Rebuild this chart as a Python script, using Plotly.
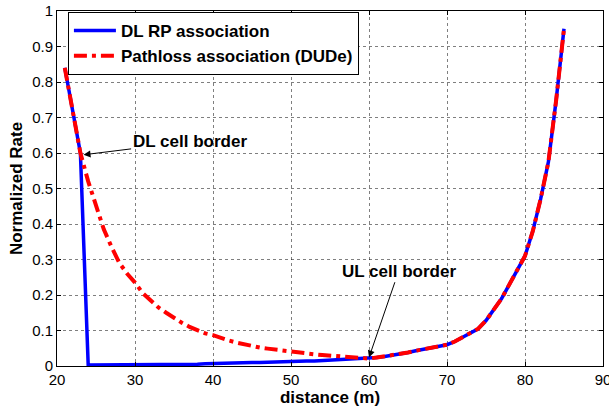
import plotly.graph_objects as go

distance = list(range(21, 86))

dl_rp = [0.84, 0.72, 0.60, 0.003, 0.003, 0.003, 0.003, 0.003, 0.003, 0.003,
         0.003, 0.003, 0.003, 0.003, 0.003, 0.004, 0.005, 0.005, 0.006, 0.007,
         0.007, 0.008, 0.008, 0.009, 0.010, 0.010, 0.011, 0.011, 0.012, 0.013,
         0.013, 0.014, 0.014, 0.015, 0.016, 0.017, 0.018, 0.019, 0.020, 0.021,
         0.024, 0.027, 0.030, 0.034, 0.038, 0.043, 0.047, 0.051, 0.055, 0.060,
         0.069, 0.081, 0.092, 0.105, 0.128, 0.157, 0.190, 0.230, 0.270, 0.310,
         0.380, 0.470, 0.575, 0.750, 0.950]

pathloss = [0.84, 0.72, 0.60, 0.52, 0.45, 0.385, 0.335, 0.29, 0.26, 0.235,
            0.205, 0.185, 0.165, 0.15, 0.135, 0.122, 0.11, 0.10, 0.092, 0.087,
            0.079, 0.072, 0.066, 0.061, 0.056, 0.052, 0.049, 0.046, 0.044, 0.042,
            0.039, 0.036, 0.033, 0.031, 0.029, 0.027, 0.025, 0.024, 0.022, 0.021,
            0.024, 0.027, 0.030, 0.034, 0.038, 0.043, 0.047, 0.051, 0.055, 0.060,
            0.069, 0.081, 0.092, 0.105, 0.128, 0.157, 0.190, 0.230, 0.270, 0.310,
            0.380, 0.470, 0.575, 0.750, 0.950]

x_ticks = [20, 30, 40, 50, 60, 70, 80, 90]
y_ticks = [0, 0.1, 0.2, 0.3, 0.4, 0.5, 0.6, 0.7, 0.8, 0.9, 1]
y_tick_labels = ["0", "0.1", "0.2", "0.3", "0.4", "0.5", "0.6", "0.7", "0.8", "0.9", "1"]

FONT = "Liberation Sans, Arial, sans-serif"

fig = go.Figure()
fig.add_trace(go.Scatter(x=distance, y=dl_rp, mode="lines", name="<b>DL RP association</b>",
                         line=dict(color="#0000ff", width=3.5)))
fig.add_trace(go.Scatter(x=distance, y=pathloss, mode="lines", name="<b>Pathloss association (DUDe)</b>",
                         line=dict(color="#ff0000", width=4, dash="13px,5px,4px,5px")))

axis_common = dict(showline=True, linecolor="black", linewidth=1, mirror="ticks",
                   ticks="inside", ticklen=4, tickcolor="black",
                   showgrid=True, gridcolor="rgba(0,0,0,0.5)", griddash="dot", gridwidth=1,
                   zeroline=False, ticklabeloverflow="allow", automargin=False,
                   tickfont=dict(family=FONT, size=15, color="black"))

fig.update_xaxes(range=[20, 90], tickvals=x_ticks, **axis_common,
                 title=dict(text="<b>distance (m)</b>", font=dict(family=FONT, size=17, color="black"),
                            standoff=1))
fig.update_yaxes(range=[0, 1], tickvals=y_ticks, ticktext=y_tick_labels, **axis_common,
                 title=dict(text="<b>Normalized Rate</b>", font=dict(family=FONT, size=17, color="black"),
                            standoff=5))

fig.add_annotation(x=23.4, y=0.595, ax=37.0, ay=0.632, axref="x", ayref="y",
                   text="<b>DL cell border</b>", showarrow=True, arrowhead=2, arrowsize=1.4,
                   arrowwidth=1, arrowcolor="black",
                   font=dict(family=FONT, size=17, color="black"))
fig.add_annotation(x=60, y=0.024, ax=63.8, ay=0.267, axref="x", ayref="y",
                   text="<b>UL cell border</b>", showarrow=True, arrowhead=2, arrowsize=1.4,
                   arrowwidth=1, arrowcolor="black",
                   font=dict(family=FONT, size=17, color="black"))

fig.update_layout(
    width=609, height=407,
    margin=dict(l=57, r=6, t=11, b=41),
    paper_bgcolor="white", plot_bgcolor="white",
    showlegend=True,
    legend=dict(x=0.02, y=0.997, xanchor="left", yanchor="top",
                bgcolor="white", bordercolor="black", borderwidth=1,
                font=dict(family=FONT, size=17, color="black"),
                tracegroupgap=0, itemwidth=42),
)

# remove the default page margin so the figure fills the window exactly
fig.write_html("out.html", config={"displayModeBar": False},
               post_script="document.body.style.margin='0';")
